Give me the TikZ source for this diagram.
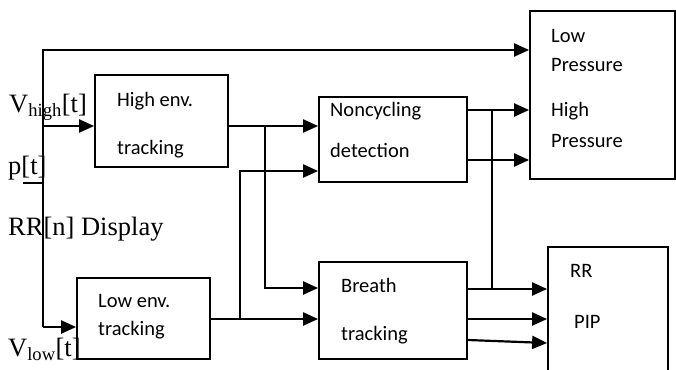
\documentclass[tikz,border=0pt]{standalone}
\usepackage{fontspec}
\setmainfont{Liberation Serif}
\newfontfamily\calibri{Carlito}
\usetikzlibrary{arrows.meta}

\tikzset{
  blk/.style={draw, line width=1.8pt, rectangle, inner sep=0pt},
  arr/.style={line width=2.2pt, -{Triangle[length=15pt,width=13pt]}},
  ln/.style={line width=2.2pt},
  txt/.style={inner sep=0pt, anchor=west, font=\calibri\fontsize{20.5}{24}\selectfont},
  sig/.style={inner sep=0pt, anchor=base west, font=\fontsize{26.5}{30}\selectfont}
}

\begin{document}
\begin{tikzpicture}[x=1pt, y=-1pt]
  \clip (0,0) rectangle (676,369);

  \node[blk, minimum width=133pt, minimum height=92pt] (highenv) at (161.5,121) {};
  \node[blk, minimum width=148pt, minimum height=85pt] (noncyc) at (393,139.5) {};
  \node[blk, minimum width=145pt, minimum height=168pt] (pressure) at (602.5,95) {};
  \node[blk, minimum width=133pt, minimum height=81pt] (lowenv) at (143.5,318.5) {};
  \node[blk, minimum width=148pt, minimum height=97pt] (breath) at (393,310.5) {};
  \node[blk, minimum width=120pt, minimum height=125pt] (display) at (608,309.5) {};

  \node[txt] (he1) at (117,101) {High env.};
  \node[txt] (he2) at (117,149) {tracking};
  \node[txt] (nc1) at (330,111) {Noncycling};
  \node[txt] (nc2) at (330,150) {detection};
  \node[txt] (lp1) at (551,36) {Low};
  \node[txt] (lp2) at (551,65) {Pressure};
  \node[txt] (hp1) at (551,111) {High};
  \node[txt] (hp2) at (551,141) {Pressure};
  \node[txt] (le1) at (98,301) {Low env.};
  \node[txt] (le2) at (98,330) {tracking};
  \node[txt] (br1) at (341,285) {Breath};
  \node[txt] (br2) at (341,335) {tracking};
  \node[txt] (rr) at (570,271) {RR};
  \node[txt] (pip) at (574,322) {PIP};

  \node[sig] (vhigh) at (9,112) {V\textsubscript{high}[t]};
  \node[sig] (pt) at (8,174) {p[t]};
  \node[sig] (rrn) at (8,235) {RR[n] Display};
  \node[sig] (vlow) at (8,356) {V\textsubscript{low}[t]};
  \draw[line width=1.4pt] (23,183) -- (43,183);

  \coordinate (tl) at (43,50);
  \coordinate (bl) at (43,327);
  \coordinate (vh) at (43,126);
  \coordinate (ja) at (265,126);
  \coordinate (jb) at (240,319);
  \coordinate (jc) at (492,110);

  \draw[arr] (bl) -- (tl) -- (tl -| pressure.west);
  \draw[arr] (vh) -- (vh -| highenv.west);
  \draw[arr] (bl) -- (bl -| lowenv.west);
  \draw[arr] (ja -| highenv.east) -- (ja -| noncyc.west);
  \draw[arr] (ja) -- ++(0,162) -- (noncyc.west |- 0,288);
  \draw[arr] (jb -| lowenv.east) -- (jb -| breath.west);
  \draw[arr] (jb) -- ++(0,-148) -- (noncyc.west |- 0,171);
  \draw[arr] (jc -| noncyc.east) -- (jc -| pressure.west);
  \draw[arr] (noncyc.east |- 0,160) -- (pressure.west |- 0,160);
  \draw[ln] (jc) -- ++(0,179);
  \draw[arr] (breath.east |- 0,289) -- (display.west |- 0,289);
  \draw[arr] (breath.east |- 0,319) -- (display.west |- 0,319);
  \draw[arr] (breath.east |- 0,340) -- (display.west |- 0,343);
\end{tikzpicture}
\end{document}
